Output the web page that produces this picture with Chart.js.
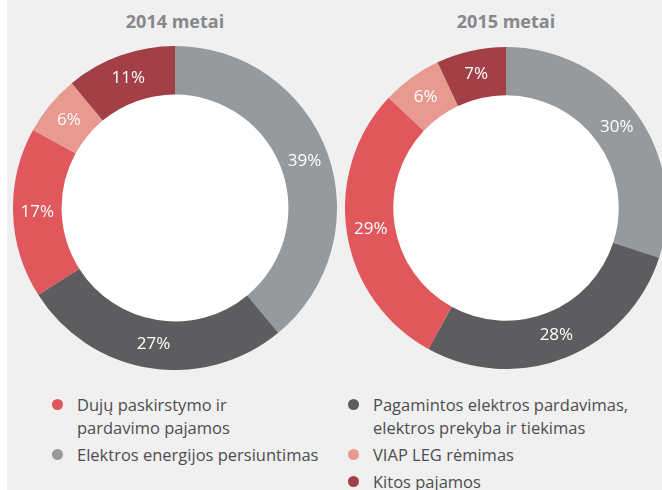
<!DOCTYPE html>
<html lang="lt">
<head>
<meta charset="utf-8">
<title>Pajamų struktūra</title>
<script src="https://cdn.jsdelivr.net/npm/chart.js@4.4.1/dist/chart.umd.min.js"></script>
<style>
  html, body { margin: 0; padding: 0; }
  body {
    width: 662px; height: 490px; overflow: hidden; position: relative;
    background: #ffffff; font-family: "Open Sans", sans-serif;
  }
  #panel { position: absolute; left: 7px; top: 0; width: 655px; height: 490px; background: #f0f0f0; }
  .metai { position: absolute; top: 9px; width: 200px; text-align: center; font-size: 18px; font-weight: bold; color: #87888a; }
  canvas { position: absolute; }
  .stulp { position: absolute; top: 393px; }
  .irasas { position: relative; padding-left: 25px; font-size: 16.5px; line-height: 23px; color: #4d4d4f; margin-bottom: 4px; white-space: pre-line; }
  .taskas { position: absolute; left: 0; top: 6px; width: 11px; height: 11px; border-radius: 50%; }
</style>
</head>
<body>
<div id="panel"></div>
<div class="metai" style="left:75px">2014 metai</div>
<div class="metai" style="left:406px">2015 metai</div>
<canvas id="chart2014" width="324" height="324" style="left:13px; top:46px"></canvas>
<canvas id="chart2015" width="322" height="322" style="left:345px; top:47px"></canvas>
<div class="stulp" id="legenda1" style="left:52px"></div>
<div class="stulp" id="legenda2" style="left:348px"></div>

<script>
// Segmentai pagal laikrodžio rodyklę nuo viršaus
const kategorijos = [
  'Elektros energijos persiuntimas',
  'Pagamintos elektros pardavimas,\nelektros prekyba ir tiekimas',
  'Dujų paskirstymo ir\npardavimo pajamos',
  'VIAP LEG rėmimas',
  'Kitos pajamos'
];
const spalvos = ['#969a9c', '#5d5d5f', '#e0575c', '#e99a90', '#a23f47'];
const duom2014 = [39, 27, 17, 6, 11];
const duom2015 = [30, 28, 29, 6, 7];

// legendos tvarka: kairė kolona, dešinė kolona
const legendaKaire = [2, 0];
const legendaDesine = [1, 3, 4];

// balta žiedo vidurio skylė
const baltasVidurys = {
  id: 'baltasVidurys',
  beforeDatasetsDraw(chart) {
    const arc = chart.getDatasetMeta(0).data[0];
    if (!arc) return;
    const ctx = chart.ctx;
    ctx.save();
    ctx.fillStyle = '#ffffff';
    ctx.beginPath();
    ctx.arc(arc.x, arc.y, arc.innerRadius + 0.5, 0, Math.PI * 2);
    ctx.fill();
    ctx.restore();
  }
};

// procentų užrašai segmentų viduryje
const procentai = {
  id: 'procentai',
  afterDatasetsDraw(chart) {
    const ctx = chart.ctx;
    const ds = chart.data.datasets[0];
    ctx.save();
    ctx.fillStyle = '#ffffff';
    ctx.font = '17px "Open Sans", sans-serif';
    ctx.textAlign = 'center';
    ctx.textBaseline = 'middle';
    chart.getDatasetMeta(0).data.forEach((arc, i) => {
      const p = arc.tooltipPosition();
      ctx.fillText(ds.data[i] + '%', p.x, p.y);
    });
    ctx.restore();
  }
};

function sukurkDiagrama(id, duomenys) {
  const ctx = document.getElementById(id).getContext('2d');
  return new Chart(ctx, {
    type: 'doughnut',
    data: {
      labels: kategorijos,
      datasets: [{
        data: duomenys,
        backgroundColor: spalvos,
        borderWidth: 0
      }]
    },
    options: {
      responsive: false,
      animation: false,
      devicePixelRatio: 1,
      cutout: '70%',
      layout: { padding: 0 },
      plugins: {
        legend: { display: false },
        tooltip: { enabled: false }
      }
    },
    plugins: [baltasVidurys, procentai]
  });
}

function legenda(elId, indeksai) {
  const el = document.getElementById(elId);
  indeksai.forEach(i => {
    const d = document.createElement('div');
    d.className = 'irasas';
    const t = document.createElement('span');
    t.className = 'taskas';
    t.style.background = spalvos[i];
    d.appendChild(t);
    d.appendChild(document.createTextNode(kategorijos[i]));
    el.appendChild(d);
  });
}

sukurkDiagrama('chart2014', duom2014);
sukurkDiagrama('chart2015', duom2015);
legenda('legenda1', legendaKaire);
legenda('legenda2', legendaDesine);
</script>
</body>
</html>
